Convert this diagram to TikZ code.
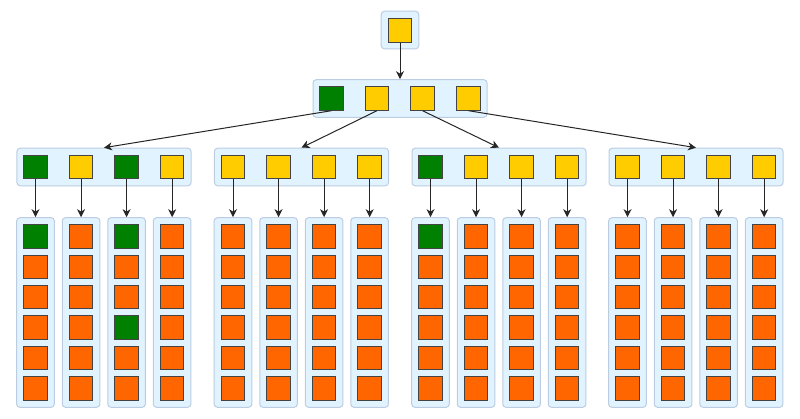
\documentclass[tikz,border=0pt]{standalone}
\usetikzlibrary{arrows.meta}
\definecolor{panelfill}{HTML}{E1F3FF}
\definecolor{panelline}{HTML}{BCCDE3}
\definecolor{cellline}{HTML}{444444}
\definecolor{amber}{HTML}{FFCC00}
\definecolor{tangerine}{HTML}{FF6600}
\definecolor{leafgreen}{HTML}{008000}
\tikzset{
    panel/.style={draw=panelline, fill=panelfill, line width=0.25mm, rounded corners=0.8mm, inner sep=0pt},
    wide/.style={panel, minimum width=43.5mm, minimum height=9.4mm},
    tall/.style={panel, minimum width=9.4mm, minimum height=47.4mm},
    cell/.style={draw=cellline, line width=0.25mm, minimum size=5.85mm, inner sep=0pt},
    gold/.style={cell, fill=amber},
    rust/.style={cell, fill=tangerine},
    lime/.style={cell, fill=leafgreen},
    link/.style={-{Stealth[length=2mm, width=2mm, inset=0.6mm]}, line width=0.25mm, black!85},
    %green cells of the lowest level
    a1r1/.style={lime}, a3r1/.style={lime}, a3r4/.style={lime}, c1r1/.style={lime},
    %green cells of the third level
    sa1/.style={lime}, sa3/.style={lime}, sc1/.style={lime}
}
\begin{document}
\begin{tikzpicture}[x=0.25mm, y=-0.25mm]
    \useasboundingbox (0,0) rectangle (800,419);

    %Root
    \node[panel, minimum size=9.4mm] at (400,30) (ptop) {};
    \node[gold] at (400,30.5) (top) {};

    %Second level
    \node[wide] at (400,98.5) (pmid) {};
    \node[lime] at (331.5,98.5) (m1) {};
    \node[gold] at (377,98.5) (m2) {};
    \node[gold] at (422.5,98.5) (m3) {};
    \node[gold] at (468.5,98.5) (m4) {};

    %Third and lowest levels
    \foreach \g/\x in {a/35.5, b/233, c/430.5, d/627.5} {
        \node[wide] at (\x+68.5,167) (p\g) {};
        \foreach \i in {1,...,4} {
            \pgfmathsetmacro{\cx}{\x+45.55*(\i-1)}
            \node[gold, s\g\i/.try] at (\cx,167) (s\g\i) {};
            \node[tall] at (\cx,312.5) (p\g\i) {};
            \foreach \r in {1,...,6} {
                \node[rust, \g\i r\r/.try] at (\cx,236.5+30.4*\r-30.4) (\g\i r\r) {};
            }
            %Lines to the columns
            \draw[link] (s\g\i.south) -- (p\g\i.north);
        }
    }

    %Lines
    \draw[link] (top.south) -- (pmid.north);
    \draw[link] (m1.south) -- (pa.north);
    \draw[link] (m2.south) -- (pb.north);
    \draw[link] (m3.south) -- (pc.north);
    \draw[link] (m4.south) -- (pd.north);
\end{tikzpicture}
\end{document}
